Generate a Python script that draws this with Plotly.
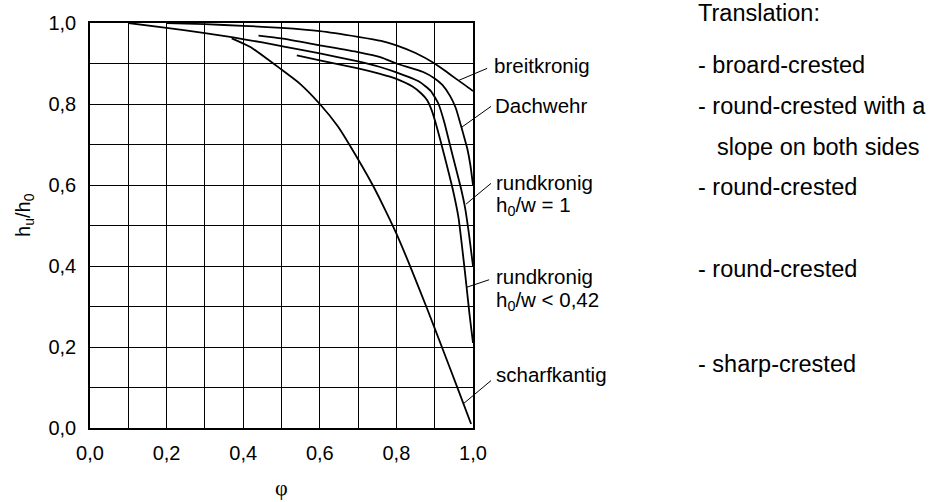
import plotly.graph_objects as go

# ---- data ----
breit_phi = [0.20, 0.30, 0.40, 0.50, 0.60, 0.70, 0.76, 0.80, 0.85, 0.90, 0.93, 0.956, 0.98, 1.00]
breit_v = [1.000, 0.997, 0.993, 0.988, 0.980, 0.966, 0.956, 0.945, 0.926, 0.900, 0.880, 0.862, 0.846, 0.832]

dach_phi = [0.44, 0.50, 0.60, 0.70, 0.76, 0.80, 0.87, 0.90, 0.92, 0.94, 0.955, 0.966, 0.975, 0.985, 0.993, 1.00]
dach_v = [0.969, 0.962, 0.945, 0.928, 0.915, 0.900, 0.879, 0.863, 0.847, 0.820, 0.790, 0.755, 0.725, 0.690, 0.650, 0.600]

r1_phi = [0.10, 0.20, 0.30, 0.37, 0.45, 0.51, 0.60, 0.70, 0.755, 0.80, 0.86, 0.89, 0.91, 0.925, 0.947, 0.969, 0.980, 0.990, 0.996, 1.00]
r1_v = [1.000, 0.988, 0.975, 0.965, 0.952, 0.941, 0.925, 0.905, 0.892, 0.878, 0.855, 0.832, 0.800, 0.755, 0.672, 0.590, 0.540, 0.475, 0.430, 0.400]

r2_phi = [0.54, 0.60, 0.70, 0.755, 0.80, 0.842, 0.865, 0.880, 0.892, 0.902, 0.915, 0.930, 0.947, 0.962, 0.976, 0.983, 0.991, 1.00]
r2_v = [0.920, 0.908, 0.888, 0.875, 0.862, 0.843, 0.826, 0.810, 0.785, 0.755, 0.710, 0.655, 0.590, 0.520, 0.410, 0.350, 0.280, 0.210]

s_phi = [0.37, 0.42, 0.50, 0.547, 0.60, 0.647, 0.677, 0.738, 0.77, 0.80, 0.84, 0.88, 0.92, 0.96, 0.995]
s_v = [0.962, 0.940, 0.885, 0.851, 0.800, 0.745, 0.700, 0.600, 0.540, 0.480, 0.390, 0.295, 0.197, 0.098, 0.010]

tick_vals = [0.0, 0.1, 0.2, 0.3, 0.4, 0.5, 0.6, 0.7, 0.8, 0.9, 1.0]
tick_text = ["0,0", "", "0,2", "", "0,4", "", "0,6", "", "0,8", "", "1,0"]

labels = ["breitkronig", "Dachwehr", "rundkronig", "h<sub>0</sub>/w = 1",
          "rundkronig", "h<sub>0</sub>/w &lt; 0,42", "scharfkantig"]
label_x = [1.050, 1.053, 1.056, 1.056, 1.056, 1.056, 1.056]
label_y = [0.895, 0.797, 0.606, 0.547, 0.374, 0.313, 0.132]

leader_x0 = [0.962, 0.971, 0.982, 0.982, 0.975]
leader_y0 = [0.858, 0.743, 0.553, 0.347, 0.060]
leader_x1 = [1.037, 1.047, 1.047, 1.042, 1.047]
leader_y1 = [0.888, 0.794, 0.604, 0.366, 0.117]

trans_text = ["Translation:", "- broard-crested", "- round-crested with a", "slope on both sides",
              "- round-crested", "- round-crested", "- sharp-crested"]
trans_x = [1.583, 1.583, 1.583, 1.632, 1.583, 1.583, 1.583]
trans_y = [1.024, 0.897, 0.794, 0.694, 0.596, 0.393, 0.158]

FONT = "Liberation Sans, Arial, sans-serif"

fig = go.Figure()
for xs, ys in [(breit_phi, breit_v), (dach_phi, dach_v), (r1_phi, r1_v), (r2_phi, r2_v), (s_phi, s_v)]:
    fig.add_trace(go.Scatter(x=xs, y=ys, mode="lines",
                             line=dict(color="black", width=1.8, shape="spline", smoothing=0.5),
                             showlegend=False, hoverinfo="skip"))

axis_common = dict(range=[0, 1], tickvals=tick_vals, ticktext=tick_text, showgrid=True,
                   gridcolor="black", gridwidth=1, showline=True, linecolor="black",
                   linewidth=1.5, mirror=True, zeroline=False, ticks="",
                   tickfont=dict(family=FONT, size=20, color="black"), fixedrange=True)

fig.update_layout(
    width=933, height=502,
    margin=dict(l=90, r=460, t=19, b=74),
    paper_bgcolor="white", plot_bgcolor="white",
    xaxis=dict(axis_common, ticklabelstandoff=6),
    yaxis=dict(axis_common, ticklabelstandoff=8),
    showlegend=False,
)

annotations = []
for t, x, y in zip(labels, label_x, label_y):
    annotations.append(dict(text=t, x=x, y=y, xref="paper", yref="paper", xanchor="left",
                            yanchor="middle", showarrow=False,
                            font=dict(family=FONT, size=20.5, color="black")))
for t, x, y in zip(trans_text, trans_x, trans_y):
    annotations.append(dict(text=t, x=x, y=y, xref="paper", yref="paper", xanchor="left",
                            yanchor="middle", showarrow=False,
                            font=dict(family=FONT, size=23.5, color="black")))
annotations.append(dict(text="φ", x=0.5, y=-0.148, xref="paper", yref="paper",
                        xanchor="center", yanchor="middle", showarrow=False,
                        font=dict(family="Liberation Serif, serif", size=22, color="black")))
annotations.append(dict(text="h<sub>u</sub>/h<sub>0</sub>", x=-0.171, y=0.525, xref="paper",
                        yref="paper", xanchor="center", yanchor="middle", showarrow=False,
                        textangle=-90, font=dict(family=FONT, size=20, color="black")))
fig.update_layout(annotations=annotations)

shapes = []
for x0, y0, x1, y1 in zip(leader_x0, leader_y0, leader_x1, leader_y1):
    shapes.append(dict(type="line", xref="paper", yref="paper", x0=x0, y0=y0, x1=x1, y1=y1,
                       line=dict(color="black", width=1)))
fig.update_layout(shapes=shapes)

fig.write_html("out.html")
